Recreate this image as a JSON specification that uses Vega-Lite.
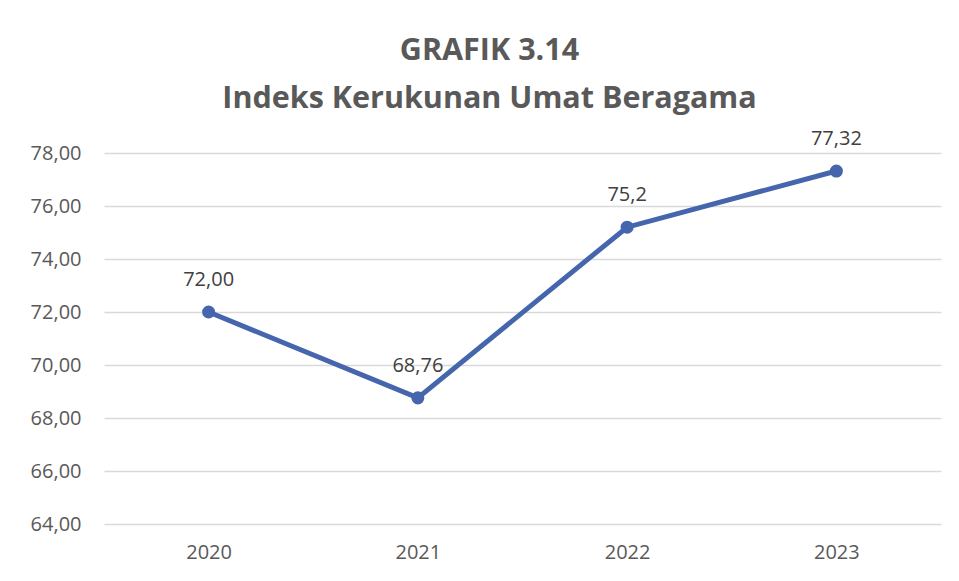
{
  "$schema": "https://vega.github.io/schema/vega-lite/v6.json",
  "autosize": "none",
  "width": 837,
  "height": 371,
  "padding": {"left": 104, "top": 153, "right": 18, "bottom": 57},
  "background": "white",
  "config": {
    "locale": {"number": {"decimal": ",", "thousands": ".", "grouping": [3], "currency": ["Rp", ""]}},
    "view": {"stroke": null},
    "font": "Open Sans"
  },
  "title": {
    "text": ["GRAFIK 3.14", "Indeks Kerukunan Umat Beragama"],
    "font": "Open Sans",
    "fontSize": 30.5,
    "fontWeight": "bold",
    "color": "#595959",
    "anchor": "middle",
    "dx": -33,
    "offset": 15,
    "lineHeight": 48
  },
  "data": {
    "values": [
      {"tahun": "2020", "nilai": 72.00, "label": "72,00"},
      {"tahun": "2021", "nilai": 68.76, "label": "68,76"},
      {"tahun": "2022", "nilai": 75.2, "label": "75,2"},
      {"tahun": "2023", "nilai": 77.32, "label": "77,32"}
    ]
  },
  "encoding": {
    "x": {
      "field": "tahun", "type": "ordinal", "title": null,
      "scale": {"paddingInner": 0, "paddingOuter": 0},
      "axis": {"labelAngle": 0, "labelFontSize": 20, "labelColor": "#595959", "labelPadding": 18, "ticks": false, "domain": false, "grid": false, "labelFont": "Open Sans"}
    },
    "y": {
      "field": "nilai", "type": "quantitative", "title": null,
      "scale": {"domain": [64, 78], "nice": false, "zero": false},
      "axis": {"values": [64, 66, 68, 70, 72, 74, 76, 78], "format": ".2f", "labelFontSize": 20, "labelColor": "#595959", "labelPadding": 23, "ticks": false, "domain": false, "gridColor": "#d9d9d9", "gridWidth": 1.5, "labelFont": "Open Sans"}
    }
  },
  "layer": [
    {"mark": {"type": "line", "color": "#4565AD", "strokeWidth": 5, "point": {"filled": true, "size": 170, "color": "#4565AD"}}},
    {"mark": {"type": "text", "dy": -32, "fontSize": 20, "color": "#404040", "font": "Open Sans"}, "encoding": {"text": {"field": "label"}}}
  ]
}
